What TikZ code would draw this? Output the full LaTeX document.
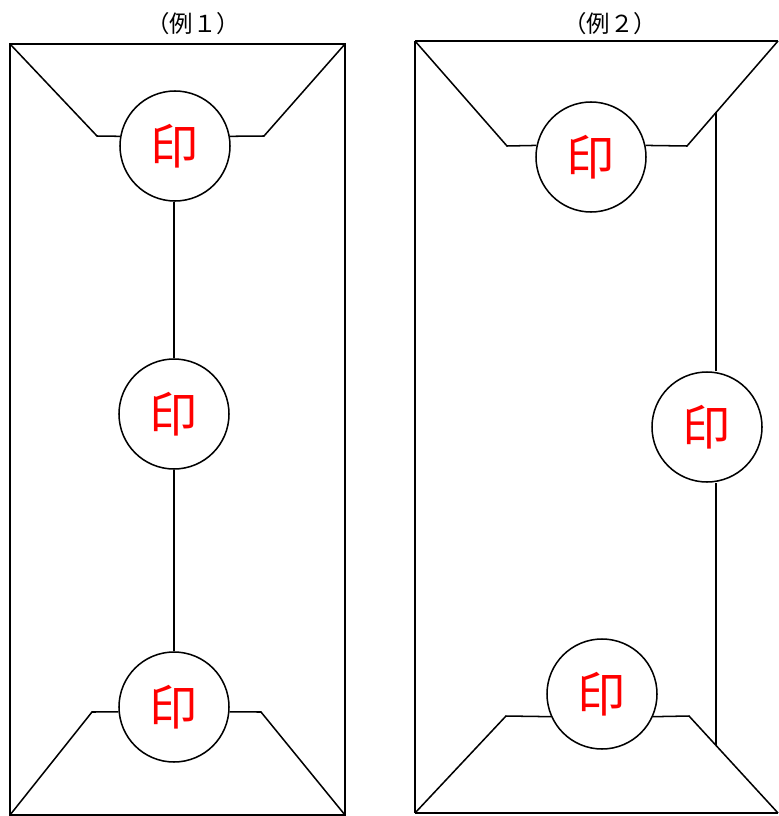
\documentclass[tikz,border=0pt]{standalone}
\usepackage{fontspec}
\setmainfont{Noto Sans CJK JP}
\tikzset{
    seal/.style={draw, circle, line width=1.3pt, minimum size=3.3cm, inner sep=0pt,
        text=red, font=\fontsize{41}{41}\selectfont},
    edge/.style={line width=1.3pt},
    caption/.style={font=\fontsize{20}{20}\selectfont}
}
\begin{document}
\begin{tikzpicture}[x=0.03cm,y=-0.03cm]
        \useasboundingbox (0,0) rectangle (778,816);

        \node[caption] (title1) at (193,24) {（例１）};
        \node[caption] (title2) at (610,24) {（例２）};

        \draw[edge] (10,44) rectangle (345,815);

        \node[seal] (s1a) at (175,146) {印};
        \node[seal] (s1b) at (174,414) {印};
        \node[seal] (s1c) at (174,707) {印};

        \draw[edge] (10,44) -- (97,136) -- (s1a.170);
        \draw[edge] (s1a.10) -- (264,136) -- (345,44);
        \draw[edge] (s1a.south -| s1b) -- (s1b.north);
        \draw[edge] (s1b.south) -- (s1c.north);
        \draw[edge] (10,815) -- (92,712) -- (s1c.185);
        \draw[edge] (s1c.-5) -- (261,712) -- (345,815);

        \draw[line width=2.4pt] (415,41) -- (778,41);
        \draw[edge] (415,41) -- (415,813);
        \draw[line width=1.8pt] (415,813) -- (778,813);

        \node[seal] (s2a) at (591,157) {印};
        \node[seal] (s2b) at (707,427) {印};
        \node[seal] (s2c) at (602,694) {印};

        \coordinate (ftop) at (716,112);
        \coordinate (fbot) at (716,745);

        \draw[edge] (415,41) -- (507,146) -- (s2a.168);
        \draw[edge] (s2a.12) -- (687,146) -- (778,41);
        \draw[edge] (ftop) -- (ftop |- s2b.north);
        \draw[edge] (ftop |- s2b.south) -- (fbot);
        \draw[edge] (415,813) -- (506,716) -- (s2c.204);
        \draw[edge] (s2c.-24) -- (689,716) -- (778,813);

    \end{tikzpicture}
\end{document}
